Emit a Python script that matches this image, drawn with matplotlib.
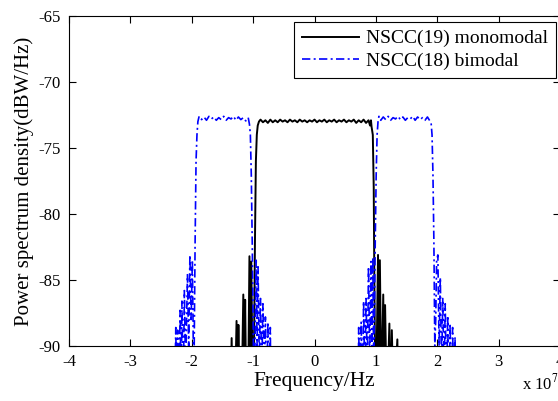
import matplotlib
matplotlib.use('Agg')
import matplotlib.pyplot as plt

plt.rcParams['font.family'] = ['Liberation Serif', 'DejaVu Serif']
plt.rcParams['mathtext.fontset'] = 'stix'
plt.rcParams['axes.unicode_minus'] = False

# frequency in units of 1e7 Hz, PSD in dBW/Hz (values below -90 are clipped by the axes)
# NSCC(19) monomodal
lstMonoFreq = [-1.42, -1.37, -1.35, -1.33, -1.30, -1.27, -1.255, -1.24, -1.22, -1.19,
               -1.16, -1.145, -1.13, -1.11, -1.08, -1.06, -1.045, -1.03, -1.01, -0.985,
               -0.97, -0.955, -0.94, -0.925, -0.905,
               -0.88, -0.84, -0.80, -0.76, -0.72, -0.68, -0.64, -0.60, -0.56, -0.52,
               -0.48, -0.44, -0.40, -0.36, -0.32, -0.28, -0.24, -0.20, -0.16, -0.12,
               -0.08, -0.04, 0.00, 0.04, 0.08, 0.12, 0.16, 0.20, 0.24, 0.28,
               0.32, 0.36, 0.40, 0.44, 0.48, 0.52, 0.56, 0.60, 0.64, 0.68,
               0.72, 0.76, 0.80, 0.84, 0.88,
               0.905, 0.92, 0.93, 0.95, 0.965, 0.975, 0.985,
               1.00, 1.035, 1.05, 1.065, 1.09, 1.12, 1.135, 1.15, 1.18, 1.22,
               1.24, 1.26, 1.29, 1.35, 1.38]
lstMonoPsd = [-100, -95, -89.4, -95, -95, -88.1, -95, -88.4, -95, -95,
              -86.1, -93, -86.5, -95, -93, -83.2, -92, -83.6, -92, -90,
              -82, -76, -74, -73.3, -73.0,
              -72.85, -73.05, -72.9, -73.1, -72.85, -73.05, -72.9, -73.05, -72.85, -73.0,
              -72.9, -73.05, -72.85, -73.0, -72.9, -73.05, -72.85, -73.0, -72.9, -73.05,
              -72.9, -73.0, -72.85, -73.05, -72.9, -73.0, -72.85, -73.05, -72.9, -73.0,
              -72.85, -73.05, -72.9, -73.0, -72.85, -73.05, -72.9, -73.0, -72.85, -73.1,
              -72.9, -73.05, -72.85, -73.1, -72.9,
              -73.3, -72.9, -73.4, -74, -78, -85, -90,
              -95, -83.1, -92, -83.5, -94, -86.1, -93, -86.9, -95, -88.3,
              -95, -88.8, -95, -89.5, -100]

# NSCC(18) bimodal
lstBiFreq = [-2.30, -2.26, -2.245, -2.23, -2.21, -2.19, -2.17, -2.16, -2.14, -2.12,
             -2.10, -2.07, -2.05, -2.03, -2.01, -1.99, -1.975, -1.96, -1.945, -1.93,
             -1.915, -1.90,
             -1.88, -1.84, -1.80, -1.76, -1.72, -1.68, -1.64, -1.60, -1.56, -1.52,
             -1.48, -1.44, -1.40, -1.36, -1.32, -1.28, -1.24, -1.20, -1.16, -1.12,
             -1.08,
             -1.06, -1.045, -1.03, -1.015, -1.00, -0.985, -0.97, -0.95, -0.935, -0.92,
             -0.90, -0.88, -0.86, -0.84, -0.82, -0.80, -0.78, -0.76, -0.74, -0.72,
             -0.70, 0.70,
             0.72, 0.74, 0.76, 0.78, 0.80, 0.82, 0.84, 0.86, 0.88, 0.90,
             0.92, 0.935, 0.95, 0.965, 0.975, 0.99, 1.005, 1.02, 1.035,
             1.05, 1.08, 1.12, 1.16, 1.20, 1.24, 1.28, 1.32, 1.36, 1.40,
             1.44, 1.48, 1.52, 1.56, 1.60, 1.64, 1.68, 1.72, 1.76, 1.80,
             1.84, 1.88,
             1.90, 1.915, 1.93, 1.945, 1.96, 1.975, 1.99, 2.01, 2.03, 2.05,
             2.07, 2.09, 2.11, 2.13, 2.15, 2.17, 2.19, 2.21, 2.23, 2.25,
             2.27, 2.29, 2.31]
lstBiPsd = [-100, -88.6, -95, -88.8, -95, -87.3, -94, -86.6, -94, -85.8,
            -92, -84.6, -90, -83.1, -88, -83.5, -90, -90, -82, -76,
            -74, -73.0,
            -72.6, -72.85, -72.65, -72.9, -72.6, -72.8, -72.65, -72.9, -72.7, -72.85,
            -72.6, -72.9, -72.7, -72.8, -72.6, -72.9, -72.65, -72.85, -72.7, -72.95,
            -72.7,
            -73.2, -74, -77, -82, -88, -95, -90, -83.5, -90, -84.0,
            -91, -86.4, -92, -86.8, -93, -87.8, -94, -88.2, -95, -88.6,
            -100, -100,
            -88.6, -95, -88.2, -94, -86.6, -93, -86.4, -92, -84.0, -91,
            -83.6, -90, -83.3, -92, -88, -82, -77, -74, -73.0,
            -72.6, -72.9, -72.65, -72.85, -72.6, -72.9, -72.7, -72.8, -72.6, -72.85,
            -72.65, -72.9, -72.7, -72.8, -72.6, -72.9, -72.65, -72.85, -72.7, -72.9,
            -72.65, -72.95,
            -73.1, -74, -77, -82, -90, -88, -83.5, -83.1, -90, -84.8,
            -92, -86.4, -93, -86.8, -94, -87.7, -95, -88.3, -95, -88.6,
            -95, -89.3, -100]

lstXTicks = [-4, -3, -2, -1, 0, 1, 2, 3, 4]
lstYTicks = [-90, -85, -80, -75, -70, -65]

fig = plt.figure(figsize=(5.58, 4.01), dpi=100)
ax = fig.add_axes([69/558, 55/401, 491/558, 330/401])

ax.plot(lstMonoFreq, lstMonoPsd, color='k', linewidth=1.4, label='NSCC(19) monomodal')
ax.plot(lstBiFreq, lstBiPsd, color='b', linewidth=1.2, linestyle=(0, (5, 2, 1.2, 2)),
        label='NSCC(18) bimodal')

ax.set_xlim(-4, 4)
ax.set_ylim(-90, -65)
ax.set_xticks(lstXTicks)
ax.set_yticks(lstYTicks)
ax.tick_params(direction='in', top=True, right=True, length=5, labelsize=12, pad=6)
for sp in ax.spines.values():
   sp.set_linewidth(0.8)

ax.set_xlabel('Frequency/Hz', fontsize=15.5, labelpad=1)
ax.set_ylabel('Power spectrum density(dBW/Hz)', fontsize=15, labelpad=3)
fig.text(0.935, 0.03, r'x 10$^7$', fontsize=12)

leg = ax.legend(loc='upper right', bbox_to_anchor=(0.992, 0.982), fontsize=14,
                fancybox=False, edgecolor='k', framealpha=1, handlelength=2.9,
                labelspacing=0.25, borderpad=0.4, handletextpad=0.4, borderaxespad=0)
leg.get_frame().set_linewidth(0.8)

fig.savefig('out.png', dpi=100)
